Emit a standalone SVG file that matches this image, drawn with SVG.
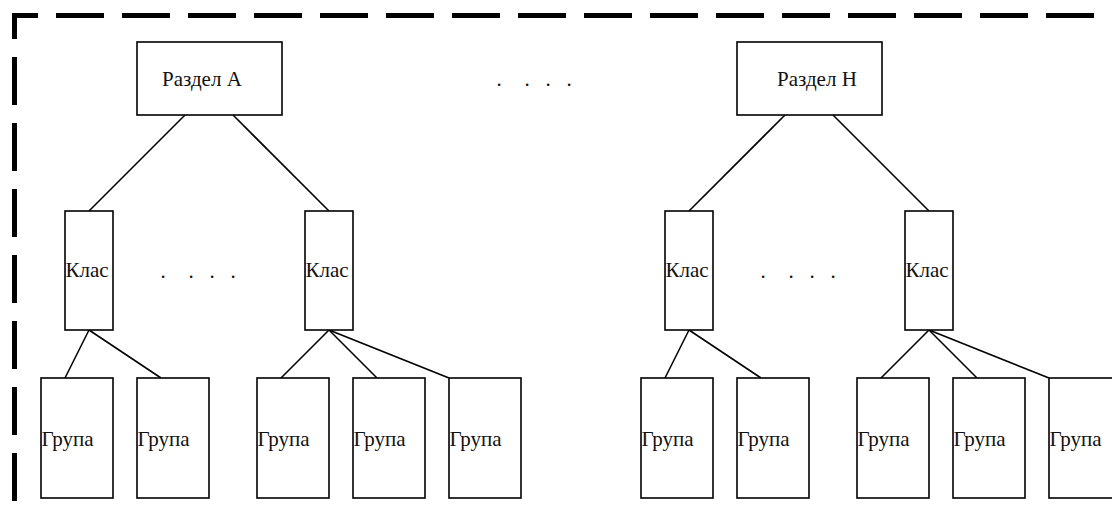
<svg xmlns="http://www.w3.org/2000/svg" width="1112" height="515" viewBox="0 0 1112 515">
<style>
.box{fill:#fff;stroke:#000;stroke-width:1.6}
.lbl{font-family:"Liberation Serif","Times New Roman",serif;font-size:21px;fill:#111}
.con line{stroke:#000;stroke-width:1.6}
.frame{stroke:#000;stroke-width:5;fill:none;stroke-dasharray:48 18;stroke-dashoffset:22}
</style>
<rect width="1112" height="515" fill="#fff"/>
<g id="frame">
<line class="frame" x1="14.5" y1="13" x2="14.5" y2="515"/>
<line class="frame" x1="12" y1="15.5" x2="1112" y2="15.5"/>
</g>
<g id="connectors" class="con">
<line x1="185" y1="115" x2="89" y2="211"/>
<line x1="233" y1="115" x2="329" y2="211"/>
<line x1="785" y1="115" x2="689" y2="211"/>
<line x1="833" y1="115" x2="929" y2="211"/>
<line x1="89" y1="330" x2="65" y2="378"/>
<line x1="89" y1="330" x2="161" y2="378"/>
<line x1="329" y1="330" x2="281" y2="378"/>
<line x1="329" y1="330" x2="377" y2="378"/>
<line x1="329" y1="330" x2="449" y2="378"/>
<line x1="689" y1="330" x2="665" y2="378"/>
<line x1="689" y1="330" x2="761" y2="378"/>
<line x1="929" y1="330" x2="881" y2="378"/>
<line x1="929" y1="330" x2="977" y2="378"/>
<line x1="929" y1="330" x2="1049" y2="378"/>
</g>
<g id="razdel-a"><rect class="box" x="137" y="42" width="145" height="73"/><text class="lbl" x="162" y="86">Раздел А</text></g>
<g id="razdel-h"><rect class="box" x="737" y="42" width="145" height="73"/><text class="lbl" x="777" y="86">Раздел Н</text></g>
<g id="dots-top"><text class="lbl" y="86"><tspan x="496.4">.</tspan><tspan x="524.4">.</tspan><tspan x="545.4">.</tspan><tspan x="566.4">.</tspan></text></g>
<g id="klas-1"><rect class="box" x="65" y="211" width="48" height="119"/><text class="lbl" x="65.5" y="277">Клас</text></g>
<g id="klas-2"><rect class="box" x="305" y="211" width="48" height="119"/><text class="lbl" x="305.5" y="277">Клас</text></g>
<g id="klas-3"><rect class="box" x="665" y="211" width="48" height="119"/><text class="lbl" x="665.5" y="277">Клас</text></g>
<g id="klas-4"><rect class="box" x="905" y="211" width="48" height="119"/><text class="lbl" x="905.5" y="277">Клас</text></g>
<g id="dots-left"><text class="lbl" y="278"><tspan x="160.4">.</tspan><tspan x="188.4">.</tspan><tspan x="209.4">.</tspan><tspan x="230.4">.</tspan></text></g>
<g id="dots-right"><text class="lbl" y="278"><tspan x="760.4">.</tspan><tspan x="788.4">.</tspan><tspan x="809.4">.</tspan><tspan x="830.4">.</tspan></text></g>
<g id="grupa-1"><rect class="box" x="41" y="378" width="72" height="120"/><text class="lbl" x="41.5" y="446">Група</text></g>
<g id="grupa-2"><rect class="box" x="137" y="378" width="72" height="120"/><text class="lbl" x="137.5" y="446">Група</text></g>
<g id="grupa-3"><rect class="box" x="257" y="378" width="72" height="120"/><text class="lbl" x="257.5" y="446">Група</text></g>
<g id="grupa-4"><rect class="box" x="353" y="378" width="72" height="120"/><text class="lbl" x="353.5" y="446">Група</text></g>
<g id="grupa-5"><rect class="box" x="449" y="378" width="72" height="120"/><text class="lbl" x="449.5" y="446">Група</text></g>
<g id="grupa-6"><rect class="box" x="641" y="378" width="72" height="120"/><text class="lbl" x="641.5" y="446">Група</text></g>
<g id="grupa-7"><rect class="box" x="737" y="378" width="72" height="120"/><text class="lbl" x="737.5" y="446">Група</text></g>
<g id="grupa-8"><rect class="box" x="857" y="378" width="72" height="120"/><text class="lbl" x="857.5" y="446">Група</text></g>
<g id="grupa-9"><rect class="box" x="953" y="378" width="72" height="120"/><text class="lbl" x="953.5" y="446">Група</text></g>
<g id="grupa-10"><rect class="box" x="1049" y="378" width="72" height="120"/><text class="lbl" x="1049.5" y="446">Група</text></g>
</svg>
